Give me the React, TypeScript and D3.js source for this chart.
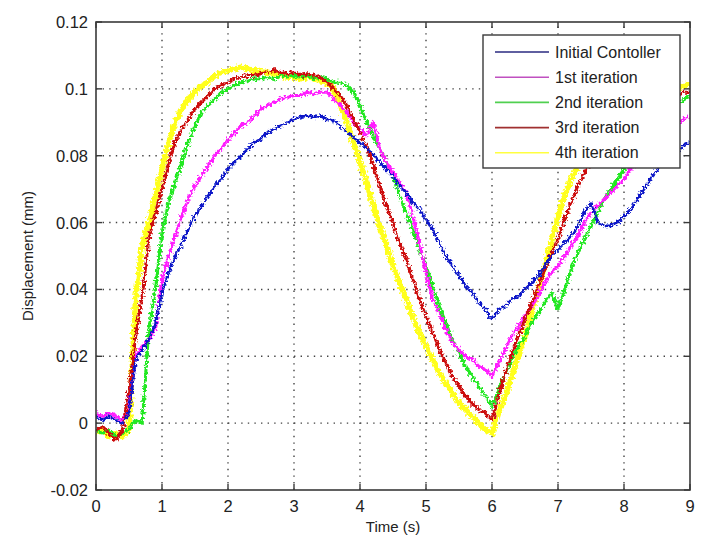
import React from "react";
import * as d3 from "d3";

// Sample times: 0 to 9 s in 0.1 s steps
const timeSeconds: number[] = d3.range(0, 91).map((i) => +(i * 0.1).toFixed(1));

const initialController: number[] = [
  0.002, 0.001, 0.002, 0.001, 0.000, 0.003, 0.019, 0.022, 0.025, 0.030,
  0.039, 0.045, 0.050, 0.054, 0.058, 0.062, 0.065, 0.068, 0.071, 0.073,
  0.076, 0.078, 0.080, 0.082, 0.084, 0.085, 0.087, 0.088, 0.089, 0.090,
  0.091, 0.0915, 0.092, 0.0915, 0.092, 0.091, 0.0905, 0.089, 0.087, 0.0855,
  0.084, 0.082, 0.0805, 0.078, 0.076, 0.074, 0.071, 0.069, 0.066, 0.064,
  0.061, 0.058, 0.054, 0.050, 0.047, 0.044, 0.041, 0.039, 0.036, 0.034,
  0.031, 0.034, 0.035, 0.037, 0.038, 0.040, 0.042, 0.044, 0.047, 0.050,
  0.052, 0.054, 0.056, 0.059, 0.063, 0.066, 0.060, 0.059, 0.059, 0.060,
  0.062, 0.064, 0.067, 0.070, 0.073, 0.076, 0.078, 0.080, 0.081, 0.083,
  0.084,
];

const iteration1: number[] = [
  0.003, 0.002, 0.003, 0.002, 0.001, 0.004, 0.020, 0.023, 0.025, 0.028,
  0.043, 0.050, 0.056, 0.062, 0.067, 0.071, 0.074, 0.077, 0.080, 0.082,
  0.085, 0.087, 0.089, 0.090, 0.092, 0.094, 0.095, 0.096, 0.097, 0.0975,
  0.098, 0.098, 0.099, 0.0985, 0.099, 0.099, 0.097, 0.095, 0.093, 0.090,
  0.088, 0.086, 0.090, 0.082, 0.078, 0.075, 0.072, 0.069, 0.062, 0.054,
  0.045, 0.037, 0.033, 0.028, 0.024, 0.022, 0.020, 0.019, 0.017, 0.016,
  0.014, 0.018, 0.022, 0.026, 0.029, 0.032, 0.035, 0.038, 0.042, 0.045,
  0.047, 0.050, 0.053, 0.056, 0.060, 0.063, 0.065, 0.067, 0.069, 0.071,
  0.073, 0.076, 0.078, 0.080, 0.082, 0.084, 0.086, 0.088, 0.089, 0.091,
  0.092,
];

const iteration2: number[] = [
  -0.002, -0.003, -0.002, -0.004, -0.003, -0.002, 0.001, 0.000, 0.028, 0.040,
  0.057, 0.066, 0.072, 0.078, 0.084, 0.089, 0.093, 0.095, 0.097, 0.099,
  0.100, 0.101, 0.102, 0.1025, 0.103, 0.103, 0.1035, 0.103, 0.104, 0.1035,
  0.104, 0.1035, 0.104, 0.103, 0.1035, 0.103, 0.102, 0.102, 0.101, 0.099,
  0.095, 0.090, 0.086, 0.082, 0.078, 0.074, 0.068, 0.063, 0.058, 0.052,
  0.047, 0.041, 0.035, 0.030, 0.025, 0.021, 0.017, 0.014, 0.011, 0.008,
  0.005, 0.010, 0.015, 0.019, 0.023, 0.026, 0.030, 0.033, 0.036, 0.039,
  0.034, 0.040, 0.046, 0.051, 0.055, 0.059, 0.063, 0.067, 0.070, 0.073,
  0.076, 0.079, 0.082, 0.085, 0.087, 0.089, 0.091, 0.093, 0.095, 0.097,
  0.098,
];

const iteration3: number[] = [
  -0.002, -0.001, -0.003, -0.005, -0.002, 0.010, 0.026, 0.038, 0.055, 0.063,
  0.070, 0.078, 0.084, 0.088, 0.091, 0.094, 0.096, 0.098, 0.100, 0.101,
  0.102, 0.103, 0.1035, 0.104, 0.104, 0.1045, 0.105, 0.1055, 0.105, 0.1045,
  0.105, 0.104, 0.1045, 0.104, 0.1035, 0.102, 0.100, 0.098, 0.095, 0.091,
  0.087, 0.083, 0.077, 0.071, 0.065, 0.060, 0.054, 0.049, 0.043, 0.037,
  0.032, 0.027, 0.022, 0.018, 0.014, 0.011, 0.008, 0.006, 0.004, 0.003,
  0.001, 0.008, 0.015, 0.021, 0.026, 0.031, 0.036, 0.041, 0.046, 0.051,
  0.055, 0.061, 0.066, 0.071, 0.075, 0.078, 0.081, 0.083, 0.085, 0.087,
  0.089, 0.090, 0.092, 0.093, 0.094, 0.095, 0.096, 0.097, 0.098, 0.099,
  0.099,
];

const iteration4: number[] = [
  -0.003, -0.002, -0.004, -0.003, -0.004, -0.002, 0.037, 0.053, 0.060, 0.068,
  0.076, 0.084, 0.090, 0.094, 0.097, 0.099, 0.101, 0.102, 0.104, 0.105,
  0.1055, 0.106, 0.1065, 0.106, 0.1055, 0.105, 0.105, 0.1045, 0.104, 0.1035,
  0.1035, 0.103, 0.1035, 0.103, 0.1025, 0.102, 0.100, 0.095, 0.090, 0.084,
  0.078, 0.072, 0.065, 0.059, 0.053, 0.047, 0.042, 0.037, 0.032, 0.027,
  0.023, 0.019, 0.015, 0.012, 0.009, 0.006, 0.004, 0.002, 0.000, -0.002,
  -0.003, 0.003, 0.008, 0.014, 0.020, 0.026, 0.033, 0.040, 0.047, 0.054,
  0.062, 0.068, 0.073, 0.077, 0.080, 0.083, 0.086, 0.088, 0.090, 0.092,
  0.093, 0.094, 0.095, 0.096, 0.097, 0.098, 0.099, 0.100, 0.100, 0.101,
  0.101,
];

const seriesNames: string[] = [
  "Initial Contoller",
  "1st iteration",
  "2nd iteration",
  "3rd iteration",
  "4th iteration",
];
const seriesValues: number[][] = [initialController, iteration1, iteration2, iteration3, iteration4];
const seriesColors: string[] = ["#0a18c8", "#ff1cff", "#22e822", "#cc0a0a", "#ffff1a"];
const seriesWidths: number[] = [2.6, 3, 3, 3, 5.5];
// Legend swatch colours (thin strokes look lighter)
const legendColors: string[] = ["#2a2a80", "#c050c0", "#50d050", "#a03030", "#ffff40"];
// Draw order: yellow underneath
const drawOrder: number[] = [4, 2, 1, 3, 0];

const xTicks: number[] = [0, 1, 2, 3, 4, 5, 6, 7, 8, 9];
const yTicks: number[] = [-0.02, 0, 0.02, 0.04, 0.06, 0.08, 0.1, 0.12];

const W = 710;
const H = 554;
const M = { left: 96, right: 20, top: 22, bottom: 64 };

export default function App() {
  const x = d3.scaleLinear().domain([0, 9]).range([M.left, W - M.right]);
  const y = d3.scaleLinear().domain([-0.02, 0.12]).range([H - M.bottom, M.top]);
  const line = d3
    .line<number>()
    .x((_, i) => x(timeSeconds[i]))
    .y((d) => y(d));

  const x0 = x(0);
  const x1 = x(9);
  const y0 = y(-0.02);
  const y1 = y(0.12);
  const axisColor = "#3a3a3a";
  const font = "'Liberation Sans', Arial, sans-serif";

  const legendX = 483;
  const legendY = 35;
  const legendW = 197;
  const legendH = 133;
  const rowH = 25.2;

  return (
    <svg
      width={W}
      height={H}
      style={{ position: "absolute", left: 0, top: 0, background: "#fff" }}
      fontFamily={font}
    >
      <defs>
        <clipPath id="plotClip">
          <rect x={x0} y={y1} width={x1 - x0} height={y0 - y1} />
        </clipPath>
        {/* roughens the traces so they read as sampled sensor signals */}
        <filter id="jitter" x="-5%" y="-5%" width="110%" height="110%">
          <feTurbulence type="fractalNoise" baseFrequency="0.4 0.4" numOctaves={2} seed={3} result="n" />
          <feDisplacementMap in="SourceGraphic" in2="n" scale={7} xChannelSelector="R" yChannelSelector="G" />
        </filter>
      </defs>

      {/* dotted grid */}
      <g stroke="#444" strokeWidth={1.4} strokeDasharray="1.4,5.2">
        {xTicks.slice(1, -1).map((t) => (
          <line key={"gx" + t} x1={x(t)} x2={x(t)} y1={y0} y2={y1} />
        ))}
        {yTicks.slice(1, -1).map((t) => (
          <line key={"gy" + t} x1={x0} x2={x1} y1={y(t)} y2={y(t)} />
        ))}
      </g>

      {/* series */}
      <g clipPath="url(#plotClip)">
        <g fill="none" strokeLinejoin="round" filter="url(#jitter)">
          {drawOrder.map((k) => (
            <path
              key={seriesNames[k]}
              d={line(seriesValues[k]) || ""}
              stroke={seriesColors[k]}
              strokeWidth={seriesWidths[k]}
            />
          ))}
        </g>
      </g>

      {/* frame and ticks */}
      <rect x={x0} y={y1} width={x1 - x0} height={y0 - y1} fill="none" stroke={axisColor} strokeWidth={1.6} />
      <g stroke={axisColor} strokeWidth={1.4}>
        {xTicks.map((t) => (
          <g key={"tx" + t}>
            <line x1={x(t)} x2={x(t)} y1={y0} y2={y0 - 6} />
            <line x1={x(t)} x2={x(t)} y1={y1} y2={y1 + 6} />
          </g>
        ))}
        {yTicks.map((t) => (
          <g key={"ty" + t}>
            <line x1={x0} x2={x0 + 6} y1={y(t)} y2={y(t)} />
            <line x1={x1} x2={x1 - 6} y1={y(t)} y2={y(t)} />
          </g>
        ))}
      </g>

      {/* tick labels */}
      <g fill="#222" fontSize={16.5}>
        {xTicks.map((t) => (
          <text key={"lx" + t} x={x(t)} y={y0 + 22} textAnchor="middle">
            {t}
          </text>
        ))}
        {yTicks.map((t) => (
          <text key={"ly" + t} x={x0 - 8} y={y(t) + 6} textAnchor="end">
            {String(+t.toFixed(2))}
          </text>
        ))}
      </g>

      {/* axis titles */}
      <text x={(x0 + x1) / 2} y={y0 + 42} textAnchor="middle" fontSize={15} fill="#222">
        Time (s)
      </text>
      <text
        transform={`translate(${33},${(y0 + y1) / 2}) rotate(-90)`}
        textAnchor="middle"
        fontSize={15}
        fill="#222"
      >
        Displacement (mm)
      </text>

      {/* legend */}
      <g>
        <rect x={legendX} y={legendY} width={legendW} height={legendH} fill="#fff" stroke={axisColor} strokeWidth={1.4} />
        {seriesNames.map((name, i) => {
          const cy = legendY + 17 + i * rowH;
          return (
            <g key={"lg" + name}>
              <line x1={legendX + 12} x2={legendX + 66} y1={cy} y2={cy} stroke={legendColors[i]} strokeWidth={1.6} />
              <text x={legendX + 72} y={cy + 5.5} fontSize={16} fill="#222">
                {name}
              </text>
            </g>
          );
        })}
      </g>
    </svg>
  );
}
